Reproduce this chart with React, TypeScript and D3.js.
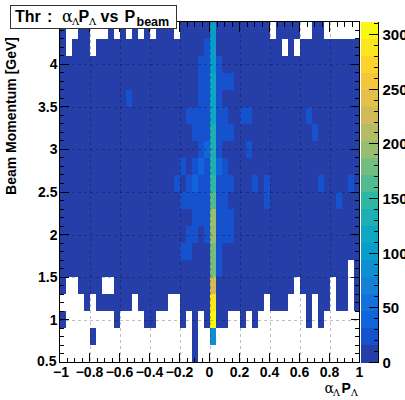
import React from 'react';
import * as d3 from 'd3';

// ---- axis ranges / binning ----
const X_RANGE: [number, number] = [-1, 1];
const Y_RANGE: [number, number] = [0.5, 4.5];
const N_X_BINS = 50;
const N_Y_BINS = 20;
const Z_MAX = 312;
const N_CONTOURS = 20;

// ---- tick labels ----
const xMajorTicks = [-1, -0.8, -0.6, -0.4, -0.2, 0, 0.2, 0.4, 0.6, 0.8, 1];
const xTickLabels = ['\u22121', '\u22120.8', '\u22120.6', '\u22120.4', '\u22120.2', '0', '0.2', '0.4', '0.6', '0.8', '1'];
const yMajorTicks = [0.5, 1, 1.5, 2, 2.5, 3, 3.5, 4, 4.5];
const yTickLabels = ['0.5', '1', '1.5', '2', '2.5', '3', '3.5', '4', '4.5'];
const zMajorTicks = [0, 50, 100, 150, 200, 250, 300];
const zTickLabels = ['0', '50', '100', '150', '200', '250', '300'];

// ---- bin contents: rows from top (4.3-4.5 GeV) to bottom (0.5-0.7 GeV), 50 columns from -1 to 1 ----
const counts: number[][] = [
  [3,0,0,2,4,0,0,0,3,0, 2,0,4,0,3,0,5,4,6,0, 5,7,6,8,9,95,8,6,5,4, 4,3,5,2,3,0,4,2,3,2, 0,0,3,2,0,0,0,0,0,0],
  [4,0,5,6,3,0,5,4,6,7, 6,5,7,8,6,9,8,7,9,10, 11,12,13,14,22,95,14,11,9,8, 9,7,8,6,7,5,6,0,5,0, 4,5,6,4,5,3,4,5,4,3],
  [5,6,4,7,6,5,8,7,6,9, 8,9,10,8,11,9,10,12,11,13, 12,14,15,24,27,100,20,14,12,11, 10,11,9,10,8,9,7,8,6,7, 6,7,5,6,5,4,6,5,4,5],
  [6,5,7,6,8,7,6,9,8,7, 10,9,11,10,12,11,13,12,14,13, 14,15,14,22,28,110,24,19,17,12, 11,12,10,11,9,10,8,9,7,8, 7,6,8,6,7,5,6,5,6,4],
  [7,6,8,7,9,6,8,10,9,8, 11,20,12,11,13,12,14,13,15,14, 15,14,15,25,29,115,23,15,13,12, 12,13,11,12,10,11,9,10,8,9, 8,7,9,7,8,6,7,6,5,6],
  [6,7,8,9,7,8,10,9,11,10, 12,11,13,12,14,13,15,14,13,15, 15,18,21,26,30,120,24,18,14,13, 19,20,12,11,12,10,11,9,10,8, 9,17,8,9,7,8,6,7,6,5],
  [8,7,9,8,10,9,11,10,9,12, 11,13,12,14,13,15,14,13,15,14, 14,15,19,24,28,130,25,20,17,14, 13,12,13,11,12,10,11,10,9,10, 9,8,18,8,9,7,8,7,6,7],
  [7,8,9,10,8,9,10,11,10,9, 12,11,13,12,14,13,12,14,13,15, 14,15,14,22,35,135,26,15,14,13, 12,18,12,11,12,10,11,10,9,10, 9,10,9,8,9,7,8,7,6,7],
  [8,9,8,10,9,11,10,9,12,11, 13,12,14,13,12,14,13,15,14,13, 19,15,23,36,28,135,34,21,14,13, 12,13,11,12,11,10,12,10,11,9, 10,9,10,8,9,8,7,8,7,6],
  [9,8,10,9,11,10,12,11,10,12, 11,13,12,14,13,12,14,13,15,18, 15,20,34,27,29,150,26,22,18,14, 13,12,19,11,17,12,11,12,10,11, 10,11,9,18,9,10,8,9,17,8],
  [10,9,11,10,9,12,11,10,12,11, 13,12,11,13,14,12,13,15,14,13, 19,21,24,26,28,165,25,20,14,13, 12,13,12,11,18,12,11,10,12,11, 10,9,11,10,9,10,17,9,8,9],
  [9,10,9,11,10,11,12,10,11,12, 12,13,11,14,12,13,15,14,12,13, 14,15,21,25,27,190,26,22,18,13, 12,11,13,12,11,12,10,11,10,12, 11,10,9,10,11,9,10,8,9,8],
  [8,9,10,9,11,10,9,11,10,12, 11,12,13,12,11,13,14,12,13,14, 15,19,22,14,24,195,27,20,17,12, 13,12,11,12,13,11,10,12,11,10, 9,11,10,9,10,8,9,10,8,9],
  [7,8,9,8,10,9,8,10,9,11, 10,11,12,11,10,12,13,11,12,13, 18,20,14,13,15,185,24,14,12,11, 12,11,10,11,12,10,9,11,10,9, 8,10,9,8,9,7,8,9,6,7],
  [5,6,7,6,8,7,6,8,7,9, 8,9,10,9,8,10,11,9,10,11, 12,11,13,12,14,180,22,12,10,9, 10,9,8,9,10,8,7,9,8,7, 6,8,7,6,7,5,6,5,0,4],
  [3,0,0,4,5,3,4,0,0,5, 4,6,5,7,6,5,7,6,5,6, 8,7,9,8,10,220,9,7,6,5, 6,5,4,5,3,4,5,4,3,0, 3,4,3,4,3,0,2,3,0,2],
  [0,0,0,0,3,0,2,3,2,4, 3,4,0,3,5,4,3,4,0,0, 5,4,6,5,7,292,6,5,3,2, 4,3,4,2,0,3,2,3,0,0, 0,3,0,2,2,0,2,3,0,2],
  [2,0,0,0,0,0,0,0,0,2, 0,0,0,0,3,2,0,0,0,0, 2,0,3,0,4,312,3,2,0,0, 2,0,1,0,0,0,0,0,0,0, 0,2,0,1,0,0,0,0,0,0],
  [0,0,0,0,0,1,0,0,0,0, 0,0,0,0,0,0,0,0,0,0, 0,0,2,0,0,85,0,0,0,0, 0,0,0,0,0,0,0,0,0,0, 0,0,0,0,0,0,0,0,0,0],
  [0,0,0,0,0,0,0,0,0,0, 0,0,0,0,0,0,0,0,0,0, 0,0,1,0,0,0,0,0,0,0, 0,0,0,0,0,0,0,0,0,0, 0,0,0,0,0,0,0,0,0,0],
];

// ---- ROOT kBird palette definition ----
const BIRD_STOPS = [0.0, 0.125, 0.25, 0.375, 0.5, 0.625, 0.75, 0.875, 1.0];
const BIRD_RED = [0.2082, 0.0592, 0.078, 0.0232, 0.1802, 0.5301, 0.8186, 0.9956, 0.9764];
const BIRD_GREEN = [0.1664, 0.3599, 0.5041, 0.6419, 0.7178, 0.7492, 0.7328, 0.7862, 0.9832];
const BIRD_BLUE = [0.5293, 0.8684, 0.8385, 0.7914, 0.6425, 0.4662, 0.3499, 0.1968, 0.0539];

function makePalette(n: number): string[] {
  const out: string[] = [];
  for (let g = 1; g < BIRD_STOPS.length; g++) {
    const nc = Math.floor(n * BIRD_STOPS[g]) - Math.floor(n * BIRD_STOPS[g - 1]);
    for (let c = 0; c < nc; c++) {
      const r = BIRD_RED[g - 1] + (c * (BIRD_RED[g] - BIRD_RED[g - 1])) / nc;
      const gg = BIRD_GREEN[g - 1] + (c * (BIRD_GREEN[g] - BIRD_GREEN[g - 1])) / nc;
      const b = BIRD_BLUE[g - 1] + (c * (BIRD_BLUE[g] - BIRD_BLUE[g - 1])) / nc;
      out.push(d3.rgb(Math.round(r * 255), Math.round(gg * 255), Math.round(b * 255)).formatHex());
    }
  }
  return out;
}

const FONT = "'Liberation Sans', Arial, Helvetica, sans-serif";
const SERIF = "'DejaVu Serif', 'Liberation Serif', serif";

export default function App() {
  const W = 405;
  const H = 400;
  const fx0 = 59.5, fx1 = 359.5, fy0 = 21.5, fy1 = 362.5;
  const px0 = 361, px1 = 378;

  const x = d3.scaleLinear().domain(X_RANGE).range([fx0, fx1]);
  const y = d3.scaleLinear().domain(Y_RANGE).range([fy1, fy0]);
  const zs = d3.scaleLinear().domain([0, Z_MAX]).range([fy1, fy0]);

  const palette = makePalette(255);
  const levelColor = (lvl: number) =>
    palette[Math.min(palette.length - 1, Math.floor(((lvl + 0.99) * palette.length) / N_CONTOURS))];
  const cellColor = (v: number) => levelColor(Math.floor(0.01 + (v * N_CONTOURS) / Z_MAX));

  const dx = (X_RANGE[1] - X_RANGE[0]) / N_X_BINS;
  const dy = (Y_RANGE[1] - Y_RANGE[0]) / N_Y_BINS;

  const cells: JSX.Element[] = [];
  counts.forEach((row, r) => {
    const j = N_Y_BINS - 1 - r;
    const ylo = Y_RANGE[0] + j * dy;
    const yhi = ylo + dy;
    row.forEach((v, i) => {
      if (v <= 0) return;
      const xlo = X_RANGE[0] + i * dx;
      const xhi = xlo + dx;
      cells.push(
        <rect
          key={`c${r}-${i}`}
          x={x(xlo)}
          y={y(yhi)}
          width={x(xhi) - x(xlo)}
          height={y(ylo) - y(yhi)}
          fill={cellColor(v)}
        />
      );
    });
  });

  const xMinor = d3.range(-1, 1.0001, 0.05).filter((t) => Math.abs(Math.round(t * 5) - t * 5) > 1e-6);
  const yMinor = d3.range(0.5, 4.5001, 0.1).filter((t) => Math.abs(Math.round(t * 2) - t * 2) > 1e-6);
  const zMinor = d3.range(0, Z_MAX, 10).filter((t) => t % 50 !== 0);

  const xGrid = xMajorTicks.slice(1, -1);
  const yGrid = yMajorTicks.slice(1, -1);

  const bands = d3.range(N_CONTOURS).map((i) => {
    const lo = (i * Z_MAX) / N_CONTOURS;
    const hi = ((i + 1) * Z_MAX) / N_CONTOURS;
    return { lo, hi, color: levelColor(i) };
  });

  const majX = 10, minX = 5, majY = 9, minY = 4.5, majZ = 9, minZ = 4.5;

  return (
    <svg
      width={W}
      height={H}
      viewBox={`0 0 ${W} ${H}`}
      style={{ position: 'absolute', left: 0, top: 0, background: '#fff' }}
    >
      <rect x={0} y={0} width={W} height={H} fill="#fff" />
      <rect x={fx0} y={fy0} width={fx1 - fx0} height={fy1 - fy0} fill="#fff" />
      <g shapeRendering="crispEdges">{cells}</g>

      {/* grid */}
      <g stroke="#000" strokeOpacity={0.25} strokeWidth={1} strokeDasharray="3 3" shapeRendering="crispEdges">
        {xGrid.map((t) => (
          <line key={`gx${t}`} x1={Math.round(x(t)) + 0.5} x2={Math.round(x(t)) + 0.5} y1={fy0} y2={fy1} />
        ))}
        {yGrid.map((t) => (
          <line key={`gy${t}`} x1={fx0} x2={fx1} y1={Math.round(y(t)) + 0.5} y2={Math.round(y(t)) + 0.5} />
        ))}
      </g>

      {/* ticks */}
      <g stroke="#000" strokeWidth={1} shapeRendering="crispEdges">
        {xMajorTicks.map((t) => (
          <g key={`xt${t}`}>
            <line x1={x(t)} x2={x(t)} y1={fy1} y2={fy1 - majX} />
            <line x1={x(t)} x2={x(t)} y1={fy0} y2={fy0 + majX} />
          </g>
        ))}
        {xMinor.map((t) => (
          <g key={`xm${t}`}>
            <line x1={x(t)} x2={x(t)} y1={fy1} y2={fy1 - minX} />
            <line x1={x(t)} x2={x(t)} y1={fy0} y2={fy0 + minX} />
          </g>
        ))}
        {yMajorTicks.map((t) => (
          <g key={`yt${t}`}>
            <line x1={fx0} x2={fx0 + majY} y1={y(t)} y2={y(t)} />
            <line x1={fx1} x2={fx1 - majY} y1={y(t)} y2={y(t)} />
          </g>
        ))}
        {yMinor.map((t) => (
          <g key={`ym${t}`}>
            <line x1={fx0} x2={fx0 + minY} y1={y(t)} y2={y(t)} />
            <line x1={fx1} x2={fx1 - minY} y1={y(t)} y2={y(t)} />
          </g>
        ))}
      </g>

      {/* frame */}
      <rect x={fx0} y={fy0} width={fx1 - fx0} height={fy1 - fy0} fill="none" stroke="#000" strokeWidth={1} shapeRendering="crispEdges" />

      {/* tick labels */}
      <g fontFamily={FONT} fontWeight="bold" fontSize={14} fill="#000">
        {xMajorTicks.map((t, i) => (
          <text key={`xl${t}`} x={x(t) + (i === 0 ? 1.5 : 0)} y={377} textAnchor="middle">
            {xTickLabels[i]}
          </text>
        ))}
        {yMajorTicks.map((t, i) => (
          <text key={`yl${t}`} x={i === 0 ? 56.5 : 57.5} y={y(t) + (i === 0 ? 3 : 5)} textAnchor="end">
            {yTickLabels[i]}
          </text>
        ))}
      </g>

      {/* palette */}
      <g shapeRendering="crispEdges">
        {bands.map((b, i) => (
          <rect key={`pb${i}`} x={px0} y={zs(b.hi)} width={px1 - px0} height={zs(b.lo) - zs(b.hi)} fill={b.color} />
        ))}
      </g>
      <g stroke="#000" strokeWidth={1} shapeRendering="crispEdges">
        <line x1={px1} x2={px1} y1={fy0} y2={fy1} />
        {zMajorTicks.map((t) => (
          <line key={`zt${t}`} x1={px1} x2={px1 - majZ} y1={zs(t)} y2={zs(t)} />
        ))}
        {zMinor.map((t) => (
          <line key={`zm${t}`} x1={px1} x2={px1 - minZ} y1={zs(t)} y2={zs(t)} />
        ))}
      </g>
      <g fontFamily={FONT} fontWeight="bold" fontSize={15} fill="#000">
        {zMajorTicks.map((t, i) => (
          <text key={`zl${t}`} x={382.5} y={zs(t) + 5.5} textAnchor="start">
            {zTickLabels[i]}
          </text>
        ))}
      </g>

      {/* axis titles */}
      <text
        transform="translate(16,37) rotate(-90)"
        textAnchor="end"
        fontFamily={FONT}
        fontWeight="bold"
        fontSize={14}
        fill="#000"
      >
        Beam Momentum [GeV]
      </text>
      <g fill="#000">
        <text x={324.5} y={393} fontFamily={SERIF} fontSize={14}>α</text>
        <text x={333} y={395.5} fontFamily={SERIF} fontSize={9.5}>Λ</text>
        <text x={341.5} y={393} fontFamily={FONT} fontWeight="bold" fontSize={14}>P</text>
        <text x={351} y={395.5} fontFamily={SERIF} fontSize={9.5}>Λ</text>
      </g>

      {/* title box */}
      <rect x={10.5} y={5.5} width={166} height={23} fill="#fff" stroke="#333" strokeWidth={1} shapeRendering="crispEdges" />
      <g fill="#000">
        <text x={15} y={21.5} fontFamily={FONT} fontWeight="bold" fontSize={16}>Thr</text>
        <text x={47} y={21.5} fontFamily={FONT} fontWeight="bold" fontSize={16}>:</text>
        <text x={62} y={21.5} fontFamily={SERIF} fontSize={16}>α</text>
        <text x={72} y={25} fontFamily={SERIF} fontSize={10}>Λ</text>
        <text x={78.5} y={21.5} fontFamily={FONT} fontWeight="bold" fontSize={16}>P</text>
        <text x={89} y={25} fontFamily={SERIF} fontSize={10}>Λ</text>
        <text x={100.5} y={21.5} fontFamily={FONT} fontWeight="bold" fontSize={16}>vs</text>
        <text x={124.5} y={21.5} fontFamily={FONT} fontWeight="bold" fontSize={16}>P</text>
        <text x={136.5} y={26} fontFamily={FONT} fontWeight="bold" fontSize={12.5}>beam</text>
      </g>
    </svg>
  );
}
